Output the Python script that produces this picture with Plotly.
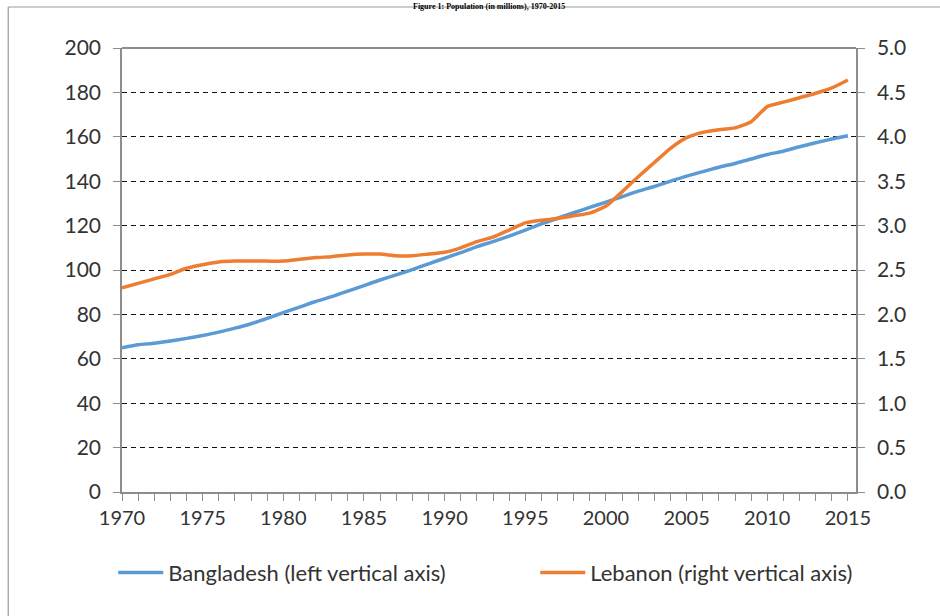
import plotly.graph_objects as go

years = list(range(1970, 2016))

# Population in millions
bangladesh = [
    65.0, 66.3, 67.0, 68.0, 69.2, 70.5, 72.0, 73.8, 75.8, 78.2,
    80.8, 83.3, 85.8, 88.0, 90.5, 93.0, 95.5, 97.8, 100.2, 102.8,
    105.3, 107.8, 110.5, 112.8, 115.3, 118.0, 120.8, 123.3, 125.8, 128.2,
    130.6, 133.0, 135.5, 137.6, 140.0, 142.3, 144.3, 146.3, 148.0, 150.0,
    152.0, 153.5, 155.5, 157.3, 159.0, 160.5,
]
lebanon = [
    2.30, 2.35, 2.40, 2.45, 2.52, 2.56, 2.59, 2.60, 2.60, 2.60,
    2.60, 2.62, 2.64, 2.65, 2.67, 2.68, 2.68, 2.66, 2.66, 2.68,
    2.70, 2.75, 2.82, 2.87, 2.95, 3.03, 3.06, 3.08, 3.11, 3.14,
    3.22, 3.38, 3.55, 3.71, 3.87, 3.99, 4.05, 4.08, 4.10, 4.17,
    4.34, 4.39, 4.44, 4.49, 4.55, 4.64,
]

left_ticks = list(range(0, 201, 20))
right_ticks = [i * 0.5 for i in range(11)]

FONT = "Lato, 'Open Sans', sans-serif"
TXT = "#333333"
AXIS = "#8c8c8c"

fig = go.Figure()
fig.add_trace(go.Scatter(
    x=years, y=bangladesh, mode="lines", name="Bangladesh (left vertical axis)",
    line=dict(color="#5B9BD5", width=3.5, shape="spline", smoothing=0.5),
    legend="legend",
))
fig.add_trace(go.Scatter(
    x=years, y=lebanon, mode="lines", name="Lebanon (right vertical axis)",
    yaxis="y2", legend="legend2",
    line=dict(color="#ED7D31", width=3.5, shape="spline", smoothing=0.5),
))

legend_style = dict(
    orientation="h", xanchor="left", y=-0.182, yanchor="middle",
    font=dict(family=FONT, size=22, color=TXT),
    itemwidth=45, bgcolor="rgba(0,0,0,0)",
)

fig.update_layout(
    width=940, height=616,
    paper_bgcolor="white", plot_bgcolor="white",
    margin=dict(l=122, r=84, t=48, b=124),
    font=dict(family=FONT, size=20, color=TXT),
    showlegend=True,
    legend=dict(x=-0.012, **legend_style),
    legend2=dict(x=0.563, **legend_style),
    xaxis=dict(
        range=[1970, 2015.5], tickvals=list(range(1970, 2016, 5)),
        showgrid=False, zeroline=False,
        showline=True, linecolor=AXIS, linewidth=1.5,
        ticks="outside", ticklen=7, tickcolor=AXIS, tickwidth=1,
        minor=dict(dtick=1, tick0=1970, ticks="outside", ticklen=7, tickcolor=AXIS, showgrid=False),
        tickfont=dict(size=20, color=TXT),
    ),
    yaxis=dict(
        range=[0, 200], tickvals=left_ticks,
        showgrid=True, gridcolor="#111111", gridwidth=1.2, griddash="5px,4px",
        zeroline=False,
        showline=True, linecolor=AXIS, linewidth=1.5,
        ticks="outside", ticklen=7, tickcolor=AXIS,
        ticklabelstandoff=8,
        tickfont=dict(size=21, color=TXT),
    ),
    yaxis2=dict(
        range=[0, 5], tickvals=right_ticks, tickformat=".1f",
        overlaying="y", side="right",
        showgrid=False, zeroline=False,
        showline=True, linecolor=AXIS, linewidth=1.5,
        ticks="outside", ticklen=7, tickcolor=AXIS,
        ticklabelstandoff=8,
        tickfont=dict(size=21, color=TXT),
    ),
    shapes=[
        # solid line along top of plot area
        dict(type="line", xref="paper", yref="paper", x0=0, x1=1, y0=1, y1=1,
             line=dict(color="#1a1a1a", width=1.2)),
        # outer chart border (left and top edges only show in the frame)
        dict(type="line", xref="paper", yref="paper", x0=-0.155, x1=-0.155, y0=-0.3, y1=1.0923,
             line=dict(color="#9a9a9a", width=1.2), layer="below"),
        dict(type="line", xref="paper", yref="paper", x0=-0.155, x1=1.3, y0=1.0923, y1=1.0923,
             line=dict(color="#9a9a9a", width=1.2), layer="below"),
    ],
    annotations=[
        dict(text="<b>Figure 1: Population (in millions), 1970-2015</b>",
             xref="paper", yref="paper", x=0.5, y=1.108, xanchor="center", yanchor="top",
             showarrow=False, font=dict(family="'Liberation Serif', serif", size=8, color="black")),
    ],
)

# drop the browser's default body margin so the figure sits at the page origin
fig.write_html(
    "out.html",
    config={"displayModeBar": False},
    post_script="document.body.style.margin='0';",
)
